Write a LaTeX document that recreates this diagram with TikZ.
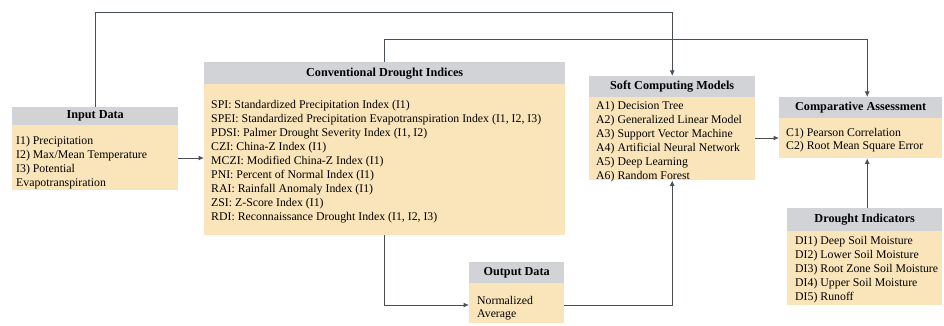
\documentclass[tikz,border=0pt]{standalone}
\usepackage{fontspec}
\setmainfont{Liberation Serif}
\usetikzlibrary{arrows.meta}
\definecolor{hdrgray}{HTML}{D2D3D6}
\definecolor{bodybeige}{HTML}{FAE5BA}
\definecolor{linegray}{HTML}{4A4F57}
\begin{document}
\begin{tikzpicture}[x=1pt,y=-1pt,
 hdrbox/.style={fill=hdrgray, draw=none, inner sep=0pt, anchor=north west, font=\bfseries\fontsize{12.2}{14}\selectfont},
 bodybox/.style={fill=bodybeige, draw=none, inner sep=0pt, anchor=north west},
 bodytext/.style={inner sep=0pt, anchor=north west, align=left, font=\fontsize{11.8}{14}\selectfont},
 bodytextb/.style={bodytext, font=\fontsize{11.8}{13}\selectfont},
 conn/.style={draw=linegray, line width=1pt, -{Latex[length=5.5pt,width=5pt]}}
]
\useasboundingbox[fill=white] (0,0) rectangle (944,326);

% Input Data
\node[hdrbox, minimum width=166, minimum height=18] (inH) at (12,107) {Input Data};
\node[bodybox, minimum width=166, minimum height=65] (inB) at (12,125) {};
\node[bodytext] (inT) at (16,134.2) {\strut I1) Precipitation\\I2) Max/Mean Temperature\\I3) Potential\\Evapotranspiration};

% Conventional Drought Indices
\node[hdrbox, minimum width=361, minimum height=22] (cvH) at (204,62) {Conventional Drought Indices};
\node[bodybox, minimum width=361, minimum height=151] (cvB) at (204,84) {};
\node[bodytext] (cvT) at (211,98.2) {\strut SPI: Standardized Precipitation Index (I1)\\
SPEI: Standardized Precipitation Evapotranspiration Index (I1, I2, I3)\\
PDSI: Palmer Drought Severity Index (I1, I2)\\
CZI: China-Z Index (I1)\\
MCZI: Modified China-Z Index (I1)\\
PNI: Percent of Normal Index (I1)\\
RAI: Rainfall Anomaly Index (I1)\\
ZSI: Z-Score Index (I1)\\
RDI: Reconnaissance Drought Index (I1, I2, I3)};

% Soft Computing Models
\node[hdrbox, minimum width=166, minimum height=21] (softH) at (589,76) {Soft Computing Models};
\node[bodybox, minimum width=166, minimum height=83] (softB) at (589,97) {};
\node[bodytext] (softT) at (596,99.2) {\strut A1) Decision Tree\\A2) Generalized Linear Model\\A3) Support Vector Machine\\A4) Artificial Neural Network\\A5) Deep Learning\\A6) Random Forest};

% Comparative Assessment
\node[hdrbox, minimum width=163, minimum height=21] (cmpH) at (779,97) {Comparative Assessment};
\node[bodybox, minimum width=163, minimum height=40] (cmpB) at (779,118) {};
\node[bodytextb] (cmpT) at (786,126.9) {\strut C1) Pearson Correlation\\C2) Root Mean Square Error};

% Drought Indicators
\node[hdrbox, minimum width=155, minimum height=23] (drH) at (787,208) {Drought Indicators};
\node[bodybox, minimum width=155, minimum height=74] (drB) at (787,231) {};
\node[bodytext] (drT) at (795,234.2) {\strut DI1) Deep Soil Moisture\\DI2) Lower Soil Moisture\\DI3) Root Zone Soil Moisture\\DI4) Upper Soil Moisture\\DI5) Runoff};

% Output Data
\node[hdrbox, minimum width=95, minimum height=21] (outH) at (469,262) {Output Data};
\node[bodybox, minimum width=95, minimum height=40] (outB) at (469,283) {};
\node[bodytextb] (outT) at (477,294.9) {\strut Normalized\\Average};

% helper coordinates
\coordinate (top1) at (0,13);
\coordinate (top2) at (0,40);
\coordinate (inArr) at (0,158);
\coordinate (outArr) at (0,305);
\coordinate (scArr) at (0,138);

% connectors
\draw[conn] (inH.north) -- (inH.north |- top1) -| (softH.north);
\draw[conn] (cvH.north) -- (cvH.north |- top2) -| ([xshift=6.5pt]cmpH.north);
\draw[conn] (inB.east |- inArr) -- (cvB.west |- inArr);
\draw[conn] (cvB.south) |- (outB.west |- outArr);
\draw[conn] (outB.east |- outArr) -| (softB.south);
\draw[conn] (softB.east |- scArr) -- (cmpB.west |- scArr);
\draw[conn] ([xshift=2.5pt]drH.north) -- ([xshift=2.5pt]drH.north |- cmpB.south);
\end{tikzpicture}
\end{document}
